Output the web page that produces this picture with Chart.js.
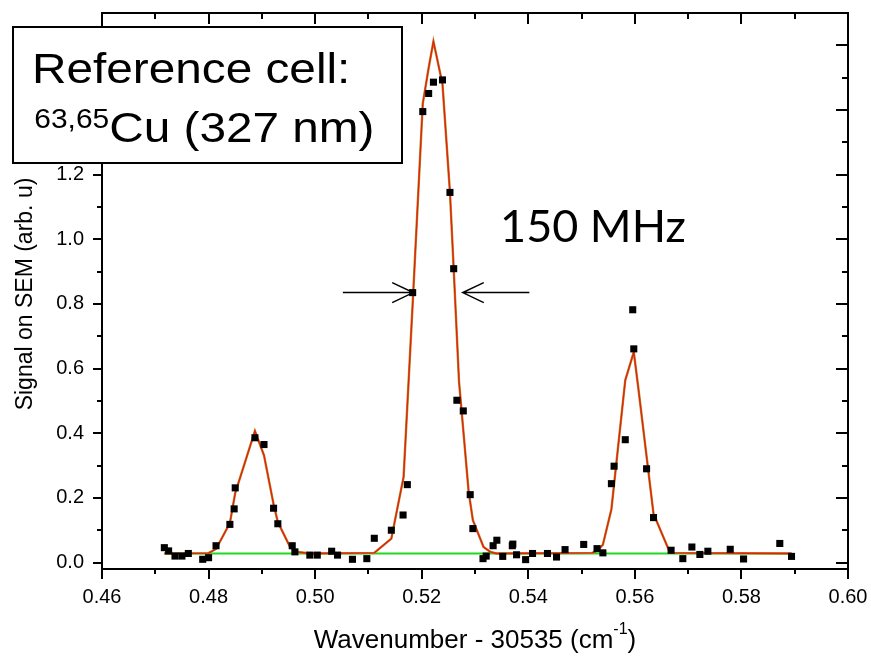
<!DOCTYPE html>
<html>
<head>
<meta charset="utf-8">
<title>Reference cell 63,65Cu (327 nm)</title>
<script src="https://cdn.jsdelivr.net/npm/chart.js@4.4.1/dist/chart.umd.min.js"></script>
<style>
  html, body { margin: 0; padding: 0; background: #fff; }
  canvas { display: block; }
</style>
</head>
<body>
<canvas id="scan" width="871" height="657"></canvas>
<script>
// measured signal: wavenumber offset (cm-1) and SEM signal
const scanX = [
  0.4717, 0.4725, 0.4737, 0.4750, 0.4762, 0.4789, 0.4800, 0.4814, 0.4840, 0.4848,
  0.4850, 0.4887, 0.4904, 0.4922, 0.4930, 0.4957, 0.4962, 0.4990, 0.5004, 0.5031,
  0.5042, 0.5070, 0.5097, 0.5111, 0.5143, 0.5165, 0.5173, 0.5183, 0.5202, 0.5213,
  0.5222, 0.5239, 0.5253, 0.5260, 0.5266, 0.5278, 0.5291, 0.5296, 0.5315, 0.5321,
  0.5334, 0.5341, 0.5352, 0.5370, 0.5371, 0.5378, 0.5395, 0.5408, 0.5436, 0.5453,
  0.5469, 0.5504, 0.5529, 0.5540, 0.5556, 0.5561, 0.5582, 0.5596, 0.5598, 0.5622,
  0.5635, 0.5668, 0.5690, 0.5707, 0.5722, 0.5737, 0.5779, 0.5804, 0.5872, 0.5894
];
const scanY = [
  0.046, 0.036, 0.020, 0.020, 0.028, 0.010, 0.015, 0.052, 0.118, 0.166,
  0.231, 0.386, 0.365, 0.168, 0.120, 0.052, 0.033, 0.023, 0.023, 0.035,
  0.023, 0.010, 0.012, 0.075, 0.100, 0.147, 0.241, 0.835, 1.395, 1.451,
  1.486, 1.493, 1.145, 0.909, 0.502, 0.469, 0.210, 0.105, 0.012, 0.020,
  0.052, 0.069, 0.019, 0.052, 0.057, 0.024, 0.009, 0.028, 0.028, 0.017,
  0.040, 0.056, 0.043, 0.030, 0.244, 0.298, 0.380, 0.782, 0.661, 0.290,
  0.139, 0.038, 0.012, 0.048, 0.025, 0.035, 0.041, 0.011, 0.059, 0.019
];

// fitted profile (three peaks on a flat offset)
const fitX = [
  0.4717, 0.4800, 0.4814, 0.4840, 0.4850, 0.4887, 0.4904, 0.4922, 0.4930, 0.4953,
  0.4962, 0.4990, 0.5111, 0.5143, 0.5166, 0.5183, 0.5202, 0.5213, 0.5222, 0.5239,
  0.5253, 0.5260, 0.5270, 0.5278, 0.5288, 0.5296, 0.5316, 0.5329, 0.5340, 0.5520,
  0.5529, 0.5540, 0.5556, 0.5582, 0.5598, 0.5607, 0.5635, 0.5666, 0.5894
];
const fitY = [
  0.028, 0.029, 0.042, 0.122, 0.215, 0.407, 0.332, 0.180, 0.125, 0.048,
  0.034, 0.028, 0.030, 0.074, 0.265, 0.800, 1.420, 1.530, 1.612, 1.480,
  1.145, 0.909, 0.560, 0.410, 0.220, 0.131, 0.048, 0.033, 0.028, 0.030,
  0.036, 0.055, 0.165, 0.564, 0.651, 0.533, 0.151, 0.030, 0.028
];

// offset level
const baseX = [0.4717, 0.5894];
const baseY = [0.028, 0.028];

// axis ticks
const xTicks = [0.46, 0.48, 0.50, 0.52, 0.54, 0.56, 0.58, 0.60];
const yTicks = [0.0, 0.2, 0.4, 0.6, 0.8, 1.0, 1.2, 1.4, 1.6];

// linewidth marker on the main peak
const fwhmLevel = 0.835;
const leftArrow = [0.5052, 0.5184];   // tail, tip
const rightArrow = [0.5402, 0.5277];  // tail, tip
const widthLabel = '150 MHz';
const widthLabelAt = [0.5347, 0.991];

const pairs = (xs, ys) => xs.map((v, i) => ({ x: v, y: ys[i] }));

// keep the plot box where it is, ignore label overhang padding
const noPad = s => { s.paddingTop = 0; s.paddingBottom = 0; s.paddingLeft = 0; s.paddingRight = 0; };

// frame with ticks on all four sides (left/bottom out, top/right in)
const frameTicks = {
  id: 'frameTicks',
  afterDatasetsDraw(chart) {
    const { ctx, chartArea: a, scales: { x, y } } = chart;
    ctx.save();
    ctx.strokeStyle = '#000';
    ctx.lineWidth = 2;
    ctx.strokeRect(a.left, a.top, a.right - a.left, a.bottom - a.top);
    ctx.beginPath();
    xTicks.forEach((v, i) => {
      const px = Math.round(x.getPixelForValue(v));
      ctx.moveTo(px, a.bottom); ctx.lineTo(px, a.bottom + 10);
      ctx.moveTo(px, a.top); ctx.lineTo(px, a.top + 11);
      if (i < xTicks.length - 1) {
        const m = Math.round(x.getPixelForValue((v + xTicks[i + 1]) / 2));
        ctx.moveTo(m, a.bottom); ctx.lineTo(m, a.bottom + 5);
        ctx.moveTo(m, a.top); ctx.lineTo(m, a.top + 6);
      }
    });
    yTicks.forEach((v, i) => {
      const py = Math.round(y.getPixelForValue(v));
      ctx.moveTo(a.left, py); ctx.lineTo(a.left - 9, py);
      ctx.moveTo(a.right, py); ctx.lineTo(a.right - 12, py);
      const m = Math.round(y.getPixelForValue(v + 0.1));
      if (m > a.top) {
        ctx.moveTo(a.left, m); ctx.lineTo(a.left - 5, m);
        ctx.moveTo(a.right, m); ctx.lineTo(a.right - 6, m);
      }
    });
    ctx.stroke();
    ctx.restore();
  }
};

// axis titles, width arrows and the cell label
const notes = {
  id: 'notes',
  afterDraw(chart) {
    const { ctx, chartArea: a, scales: { x, y } } = chart;
    ctx.save();
    ctx.fillStyle = '#000';
    ctx.strokeStyle = '#000';

    // x title with superscript
    const big = '26px "Liberation Sans", Arial, sans-serif';
    const small = '16px "Liberation Sans", Arial, sans-serif';
    const t1 = 'Wavenumber - 30535 (cm', t2 = '-1', t3 = ')';
    ctx.font = big; const w1 = ctx.measureText(t1).width, w3 = ctx.measureText(t3).width;
    ctx.font = small; const w2 = ctx.measureText(t2).width;
    let tx = (a.left + a.right) / 2 - (w1 + w2 + w3) / 2;
    const tb = 648;
    ctx.textBaseline = 'alphabetic';
    ctx.textAlign = 'left';
    ctx.font = big; ctx.fillText(t1, tx, tb); tx += w1;
    ctx.font = small; ctx.fillText(t2, tx, tb - 14); tx += w2;
    ctx.font = big; ctx.fillText(t3, tx, tb);

    // y title
    ctx.save();
    ctx.translate(32, (a.top + a.bottom) / 2 + 3);
    ctx.rotate(-Math.PI / 2);
    ctx.textAlign = 'center';
    ctx.font = '23px "Liberation Sans", Arial, sans-serif';
    ctx.fillText('Signal on SEM (arb. u)', 0, 0);
    ctx.restore();

    // arrows pointing at the half-maximum
    ctx.lineWidth = 1.5;
    const ay = y.getPixelForValue(fwhmLevel);
    [leftArrow, rightArrow].forEach(([tail, tip]) => {
      const x0 = x.getPixelForValue(tail), x1 = x.getPixelForValue(tip);
      const dir = Math.sign(x1 - x0);
      ctx.beginPath();
      ctx.moveTo(x0, ay); ctx.lineTo(x1, ay);
      ctx.moveTo(x1 - dir * 21, ay - 10); ctx.lineTo(x1, ay); ctx.lineTo(x1 - dir * 21, ay + 10);
      ctx.stroke();
    });
    ctx.font = '45px Lato, "Open Sans", sans-serif';
    ctx.textAlign = 'left';
    ctx.fillText(widthLabel, x.getPixelForValue(widthLabelAt[0]), y.getPixelForValue(widthLabelAt[1]));

    // cell label box (text slightly widened)
    ctx.fillStyle = '#fff';
    ctx.fillRect(13, 27, 389, 136);
    ctx.lineWidth = 2;
    ctx.strokeRect(13, 27, 389, 136);
    ctx.fillStyle = '#000';
    ctx.save();
    ctx.translate(32, 0);
    ctx.scale(1.11, 1);
    ctx.font = '43px "Liberation Sans", Arial, sans-serif';
    ctx.fillText('Reference cell:', 0, 83);
    ctx.font = '27px "Liberation Sans", Arial, sans-serif';
    ctx.fillText('63,65', 2, 128);
    const sw = ctx.measureText('63,65').width;
    ctx.font = '43px "Liberation Sans", Arial, sans-serif';
    ctx.fillText('Cu (327 nm)', 2 + sw, 142);
    ctx.restore();
    ctx.restore();
  }
};

new Chart(document.getElementById('scan'), {
  type: 'scatter',
  data: {
    datasets: [
      {
        label: 'data',
        data: pairs(scanX, scanY),
        pointStyle: 'rect',
        pointRadius: 5,
        pointHoverRadius: 5,
        backgroundColor: '#000',
        borderColor: '#000',
        borderWidth: 0,
        showLine: false,
        order: 0
      },
      {
        label: 'fit',
        data: pairs(fitX, fitY),
        showLine: true,
        borderColor: '#e3210d',
        borderWidth: 1.3,
        pointRadius: 0,
        tension: 0,
        order: 1
      },
      {
        label: 'fit shade',
        data: pairs(fitX, fitY),
        showLine: true,
        borderColor: '#b98a2a',
        borderWidth: 2.4,
        pointRadius: 0,
        tension: 0,
        order: 2
      },
      {
        label: 'offset',
        data: pairs(baseX, baseY),
        showLine: true,
        borderColor: '#1fd91f',
        borderWidth: 1.8,
        pointRadius: 0,
        order: 3
      }
    ]
  },
  options: {
    responsive: false,
    animation: false,
    layout: { padding: { top: 13, right: 23, left: 0, bottom: 0 } },
    plugins: { legend: { display: false }, tooltip: { enabled: false } },
    scales: {
      x: {
        type: 'linear',
        min: 0.46,
        max: 0.60,
        afterBuildTicks: s => { s.ticks = xTicks.map(v => ({ value: v })); },
        afterFit: s => { s.height = 88; noPad(s); },
        grid: { display: false, drawTicks: false },
        border: { display: false },
        ticks: {
          color: '#000',
          padding: 16,
          maxRotation: 0,
          font: { family: '"Liberation Sans", Arial, sans-serif', size: 20 },
          callback: v => v.toFixed(2)
        }
      },
      y: {
        type: 'linear',
        min: -0.02,
        max: 1.7,
        afterBuildTicks: s => { s.ticks = yTicks.map(v => ({ value: v })); },
        afterFit: s => { s.width = 102; noPad(s); },
        grid: { display: false, drawTicks: false },
        border: { display: false },
        ticks: {
          color: '#000',
          padding: 18,
          font: { family: '"Liberation Sans", Arial, sans-serif', size: 20 },
          callback: v => v.toFixed(1)
        }
      }
    }
  },
  plugins: [frameTicks, notes]
});
</script>
</body>
</html>
